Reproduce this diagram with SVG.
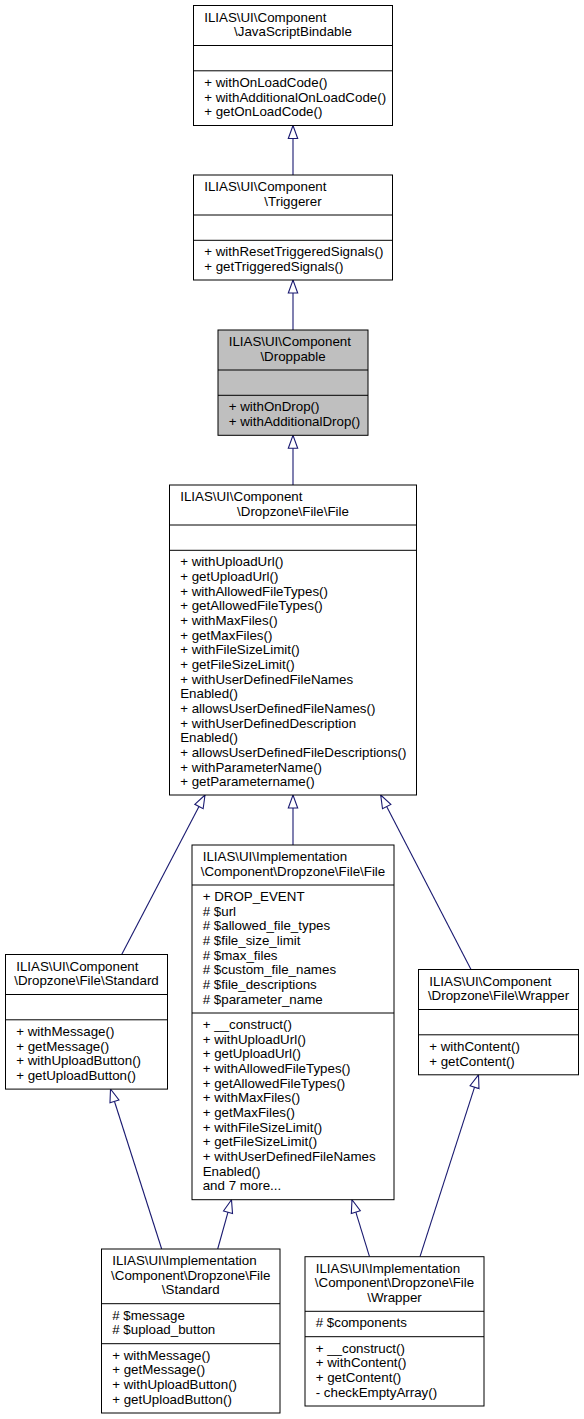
<svg xmlns="http://www.w3.org/2000/svg" width="584" height="1419" viewBox="0 0 584 1419">
<style>
.box{fill:#fff;stroke:#000;stroke-width:1}
.sel{fill:#bfbfbf;stroke:#000;stroke-width:1}
.div{stroke:#000;stroke-width:1}
text{font-family:"Liberation Sans",Arial,Helvetica,sans-serif;font-size:13.33px;fill:#000}
.m{text-anchor:middle}
.e{fill:none;stroke:#191970;stroke-width:1.1}
</style>
<defs>
<marker id="ah" markerWidth="16" markerHeight="12" refX="14" refY="6" orient="auto" markerUnits="userSpaceOnUse">
<path d="M1,1.3 L14,6 L1,10.7 Z" fill="#fff" stroke="#191970" stroke-width="1.1"/>
</marker>
</defs>
<rect width="584" height="1419" fill="#fff"/>
<g id="edges">
<path class="e" d="M293,175 L293,125.5" marker-end="url(#ah)"/>
<path class="e" d="M293,330 L293,280" marker-end="url(#ah)"/>
<path class="e" d="M293,485 L293,435.3" marker-end="url(#ah)"/>
<path class="e" d="M121.7,954.5 L205,795" marker-end="url(#ah)"/>
<path class="e" d="M293,845 L293,795" marker-end="url(#ah)"/>
<path class="e" d="M471,969.5 L380.7,795" marker-end="url(#ah)"/>
<path class="e" d="M161.7,1249 L110.5,1089" marker-end="url(#ah)"/>
<path class="e" d="M217.7,1249 L231.5,1199.7" marker-end="url(#ah)"/>
<path class="e" d="M369.5,1256.7 L352,1199.7" marker-end="url(#ah)"/>
<path class="e" d="M420,1256.7 L478.5,1074.8" marker-end="url(#ah)"/>
</g>
<g id="n_jsb">
<rect class="box" x="193.5" y="5.5" width="199" height="120"/>
<line class="div" x1="193.5" y1="45.5" x2="392.5" y2="45.5"/>
<line class="div" x1="193.5" y1="70.8" x2="392.5" y2="70.8"/>
<text x="204.2" y="21.5">ILIAS\UI\Component</text>
<text class="m" x="293" y="36.2">\JavaScriptBindable</text>
<text x="204.2" y="86.8">+ withOnLoadCode()</text>
<text x="204.2" y="101.5">+ withAdditionalOnLoadCode()</text>
<text x="204.2" y="116.1">+ getOnLoadCode()</text>
</g>
<g id="n_triggerer">
<rect class="box" x="193.5" y="175" width="199" height="105"/>
<line class="div" x1="193.5" y1="215" x2="392.5" y2="215"/>
<line class="div" x1="193.5" y1="240.3" x2="392.5" y2="240.3"/>
<text x="204.2" y="191">ILIAS\UI\Component</text>
<text class="m" x="293" y="205.7">\Triggerer</text>
<text x="204.2" y="256.3">+ withResetTriggeredSignals()</text>
<text x="204.2" y="271">+ getTriggeredSignals()</text>
</g>
<g id="n_droppable">
<rect class="sel" x="218" y="330" width="150" height="105.3"/>
<line class="div" x1="218" y1="370" x2="368" y2="370"/>
<line class="div" x1="218" y1="395.3" x2="368" y2="395.3"/>
<text x="228.7" y="346">ILIAS\UI\Component</text>
<text class="m" x="293" y="360.7">\Droppable</text>
<text x="228.7" y="411.3">+ withOnDrop()</text>
<text x="228.7" y="426">+ withAdditionalDrop()</text>
</g>
<g id="n_file">
<rect class="box" x="169.5" y="485" width="247" height="310"/>
<line class="div" x1="169.5" y1="525" x2="416.5" y2="525"/>
<line class="div" x1="169.5" y1="550.3" x2="416.5" y2="550.3"/>
<text x="180.2" y="501">ILIAS\UI\Component</text>
<text class="m" x="293" y="515.7">\Dropzone\File\File</text>
<text x="180.2" y="566.3">+ withUploadUrl()</text>
<text x="180.2" y="581">+ getUploadUrl()</text>
<text x="180.2" y="595.6">+ withAllowedFileTypes()</text>
<text x="180.2" y="610.3">+ getAllowedFileTypes()</text>
<text x="180.2" y="625">+ withMaxFiles()</text>
<text x="180.2" y="639.6">+ getMaxFiles()</text>
<text x="180.2" y="654.3">+ withFileSizeLimit()</text>
<text x="180.2" y="669">+ getFileSizeLimit()</text>
<text x="180.2" y="683.6">+ withUserDefinedFileNames</text>
<text x="180.2" y="698.3">Enabled()</text>
<text x="180.2" y="713">+ allowsUserDefinedFileNames()</text>
<text x="180.2" y="727.6">+ withUserDefinedDescription</text>
<text x="180.2" y="742.3">Enabled()</text>
<text x="180.2" y="757">+ allowsUserDefinedFileDescriptions()</text>
<text x="180.2" y="771.6">+ withParameterName()</text>
<text x="180.2" y="786.3">+ getParametername()</text>
</g>
<g id="n_standard">
<rect class="box" x="5.5" y="954.5" width="162" height="134.6"/>
<line class="div" x1="5.5" y1="994.5" x2="167.5" y2="994.5"/>
<line class="div" x1="5.5" y1="1019.8" x2="167.5" y2="1019.8"/>
<text x="16.2" y="970.5">ILIAS\UI\Component</text>
<text class="m" x="86.5" y="985.2">\Dropzone\File\Standard</text>
<text x="16.2" y="1035.8">+ withMessage()</text>
<text x="16.2" y="1050.5">+ getMessage()</text>
<text x="16.2" y="1065.1">+ withUploadButton()</text>
<text x="16.2" y="1079.8">+ getUploadButton()</text>
</g>
<g id="n_impl_file">
<rect class="box" x="192" y="845" width="202" height="354.7"/>
<line class="div" x1="192" y1="885" x2="394" y2="885"/>
<line class="div" x1="192" y1="1013" x2="394" y2="1013"/>
<text x="202.7" y="861">ILIAS\UI\Implementation</text>
<text class="m" x="293" y="875.7">\Component\Dropzone\File\File</text>
<text x="202.7" y="901">+ DROP_EVENT</text>
<text x="202.7" y="915.7"># $url</text>
<text x="202.7" y="930.3"># $allowed_file_types</text>
<text x="202.7" y="945"># $file_size_limit</text>
<text x="202.7" y="959.7"># $max_files</text>
<text x="202.7" y="974.3"># $custom_file_names</text>
<text x="202.7" y="989"># $file_descriptions</text>
<text x="202.7" y="1003.7"># $parameter_name</text>
<text x="202.7" y="1029">+ __construct()</text>
<text x="202.7" y="1043.7">+ withUploadUrl()</text>
<text x="202.7" y="1058.3">+ getUploadUrl()</text>
<text x="202.7" y="1073">+ withAllowedFileTypes()</text>
<text x="202.7" y="1087.7">+ getAllowedFileTypes()</text>
<text x="202.7" y="1102.3">+ withMaxFiles()</text>
<text x="202.7" y="1117">+ getMaxFiles()</text>
<text x="202.7" y="1131.7">+ withFileSizeLimit()</text>
<text x="202.7" y="1146.3">+ getFileSizeLimit()</text>
<text x="202.7" y="1161">+ withUserDefinedFileNames</text>
<text x="202.7" y="1175.7">Enabled()</text>
<text x="202.7" y="1190.3">and 7 more...</text>
</g>
<g id="n_wrapper">
<rect class="box" x="418.5" y="969.5" width="160" height="105.3"/>
<line class="div" x1="418.5" y1="1009.5" x2="578.5" y2="1009.5"/>
<line class="div" x1="418.5" y1="1034.8" x2="578.5" y2="1034.8"/>
<text x="429.2" y="985.5">ILIAS\UI\Component</text>
<text class="m" x="498.5" y="1000.2">\Dropzone\File\Wrapper</text>
<text x="429.2" y="1050.8">+ withContent()</text>
<text x="429.2" y="1065.5">+ getContent()</text>
</g>
<g id="n_impl_standard">
<rect class="box" x="101.5" y="1249" width="178.5" height="164"/>
<line class="div" x1="101.5" y1="1303.7" x2="280" y2="1303.7"/>
<line class="div" x1="101.5" y1="1343.7" x2="280" y2="1343.7"/>
<text x="112.2" y="1265">ILIAS\UI\Implementation</text>
<text class="m" x="190.75" y="1279.7">\Component\Dropzone\File</text>
<text class="m" x="190.75" y="1294.3">\Standard</text>
<text x="112.2" y="1319.7"># $message</text>
<text x="112.2" y="1334.3"># $upload_button</text>
<text x="112.2" y="1359.7">+ withMessage()</text>
<text x="112.2" y="1374.3">+ getMessage()</text>
<text x="112.2" y="1389">+ withUploadButton()</text>
<text x="112.2" y="1403.7">+ getUploadButton()</text>
</g>
<g id="n_impl_wrapper">
<rect class="box" x="305" y="1256.7" width="179" height="149.3"/>
<line class="div" x1="305" y1="1311.3" x2="484" y2="1311.3"/>
<line class="div" x1="305" y1="1336.7" x2="484" y2="1336.7"/>
<text x="315.7" y="1272.7">ILIAS\UI\Implementation</text>
<text class="m" x="394.5" y="1287.3">\Component\Dropzone\File</text>
<text class="m" x="394.5" y="1302">\Wrapper</text>
<text x="315.7" y="1327.3"># $components</text>
<text x="315.7" y="1352.7">+ __construct()</text>
<text x="315.7" y="1367.3">+ withContent()</text>
<text x="315.7" y="1382">+ getContent()</text>
<text x="315.7" y="1396.7">- checkEmptyArray()</text>
</g>
</svg>
